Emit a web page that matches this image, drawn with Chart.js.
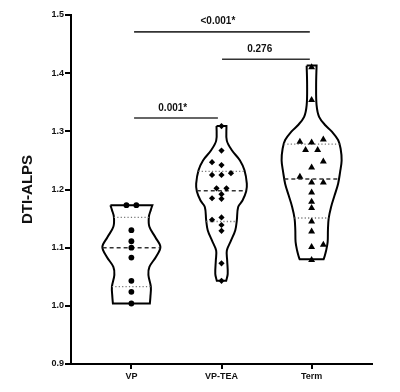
<!DOCTYPE html>
<html>
<head>
<meta charset="utf-8">
<script src="https://cdn.jsdelivr.net/npm/chart.js@4"></script>
<style>
  html, body { margin: 0; padding: 0; background: #fff; }
  #wrap { width: 400px; height: 392px; }
</style>
</head>
<body>
<div id="wrap"><canvas id="chart"></canvas></div>
<script>
// Groups and axis
const categories = ['VP', 'VP-TEA', 'Term'];
const yTicks = [0.9, 1.0, 1.1, 1.2, 1.3, 1.4, 1.5];

// Individual subjects (value, horizontal jitter in category units)
const vpValues = [1.173, 1.173, 1.130, 1.111, 1.100, 1.083, 1.043, 1.024, 1.004];
const vpJitter = [-0.055, 0.055, 0, 0, 0, 0, 0, 0, 0];

const teaValues = [1.309, 1.267, 1.247, 1.242, 1.225, 1.225, 1.228, 1.202, 1.202,
                   1.192, 1.185, 1.184, 1.148, 1.152, 1.139, 1.129, 1.073, 1.043];
const teaJitter = [0, 0, -0.105, 0, -0.105, 0, 0.105, -0.055, 0.055,
                   0, -0.105, 0, -0.105, 0, 0, 0, 0, 0];

const termValues = [1.410, 1.354, 1.282, 1.281, 1.286, 1.268, 1.268, 1.248, 1.238, 1.222,
                    1.212, 1.212, 1.195, 1.179, 1.168, 1.145, 1.128, 1.101, 1.105, 1.079];
const termJitter = [0, 0, -0.13, 0, 0.13, -0.067, 0.067, 0.13, 0, -0.13,
                    0, 0.13, 0, 0, 0, 0, 0, 0, 0.13, 0];

// Violin density profiles (value, half width in category units), top to bottom
const vpProfileY = [1.173, 1.165, 1.153, 1.136, 1.118, 1.101, 1.084, 1.067, 1.053, 1.033, 1.015, 1.004];
const vpProfileW = [0.233, 0.216, 0.194, 0.200, 0.266, 0.322, 0.272, 0.200, 0.189, 0.216, 0.211, 0.205];

const teaProfileY = [1.309, 1.284, 1.267, 1.250, 1.233, 1.210, 1.197, 1.181, 1.170, 1.147, 1.130, 1.112, 1.095, 1.078, 1.055, 1.043];
const teaProfileW = [0.055, 0.059, 0.117, 0.205, 0.255, 0.281, 0.274, 0.233, 0.185, 0.170, 0.153, 0.105, 0.059, 0.063, 0.069, 0.052];

const termProfileY = [1.413, 1.380, 1.345, 1.325, 1.310, 1.300, 1.285, 1.270, 1.250, 1.230, 1.210, 1.190, 1.170, 1.150, 1.130, 1.110, 1.095, 1.085, 1.080];
const termProfileW = [0.055, 0.050, 0.055, 0.083, 0.155, 0.222, 0.294, 0.322, 0.333, 0.316, 0.294, 0.255, 0.216, 0.189, 0.181, 0.178, 0.161, 0.144, 0.133];

// Quartiles per group: lower, median, upper
const lowerQ = [1.033, 1.145, 1.151];
const medians = [1.100, 1.198, 1.218];
const upperQ = [1.152, 1.231, 1.278];

// Significance brackets
const bracketFrom = [1.03, 2.006, 1.03];
const bracketTo = [2.98, 2.98, 1.96];
const bracketY = [1.471, 1.424, 1.323];
const bracketLabels = ['<0.001*', '0.276', '0.001*'];
const bracketLabelX = [1.96, 2.424, 1.459];
const bracketLabelY = [1.4885, 1.441, 1.3396];

const FONT = "'Liberation Sans', Arial, sans-serif";

// half width of a violin at a given value
const halfAt = (profY, profW, v) => {
    for (let i = 0; i < profY.length - 1; i++) {
        if (v <= profY[i] && v >= profY[i + 1]) {
            const t = (profY[i] - v) / (profY[i] - profY[i + 1]);
            return profW[i] + t * (profW[i + 1] - profW[i]);
        }
    }
    return profW[profW.length - 1];
};

// closed outline; corners doubled so the caps stay straight
const outline = (center, profY, profW) => {
    const left = profY.map((y, i) => ({ x: center - profW[i], y }));
    const right = profY.map((y, i) => ({ x: center + profW[i], y })).reverse();
    const n = left.length;
    return [left[0], ...left, left[n - 1], right[0], ...right, right[n - 1], left[0]];
};

const points = (center, values, jitter) => values.map((v, i) => ({ x: center + jitter[i], y: v }));

const profiles = [
    [vpProfileY, vpProfileW],
    [teaProfileY, teaProfileW],
    [termProfileY, termProfileW]
];

const datasets = [
    { data: points(1, vpValues, vpJitter), pointStyle: 'circle', pointRadius: 2.9 },
    { data: points(2, teaValues, teaJitter), pointStyle: 'rectRot', pointRadius: 3.1 },
    { data: points(3, termValues, termJitter), pointStyle: 'triangle', pointRadius: 4 }
].map(d => Object.assign(d, { backgroundColor: '#000', borderColor: '#000', borderWidth: 0, showLine: false }));

profiles.forEach(([py, pw], g) => {
    const c = g + 1;
    const lineFor = (v, dash, width, color) => {
        const h = halfAt(py, pw, v);
        return {
            data: [{ x: c - h, y: v }, { x: c + h, y: v }],
            showLine: true, pointRadius: 0, borderColor: color,
            borderWidth: width, borderDash: dash, tension: 0
        };
    };
    datasets.push(lineFor(medians[g], [4, 3], 1.5, '#333'));
    datasets.push(lineFor(upperQ[g], [1.2, 2.2], 1.3, '#777'));
    datasets.push(lineFor(lowerQ[g], [1.2, 2.2], 1.3, '#777'));
    datasets.push({
        data: outline(c, py, pw),
        showLine: true, pointRadius: 0, borderColor: '#000',
        borderWidth: 2, tension: 0.35, fill: false
    });
});

bracketY.forEach((y, i) => {
    datasets.push({
        data: [{ x: bracketFrom[i], y }, { x: bracketTo[i], y }],
        showLine: true, pointRadius: 0, borderColor: '#333', borderWidth: 1.6, tension: 0
    });
});

// p-value labels above brackets
const bracketText = {
    id: 'bracketText',
    afterDatasetsDraw(chart) {
        const { ctx, scales: { x, y } } = chart;
        ctx.save();
        ctx.font = `bold 10px ${FONT}`;
        ctx.fillStyle = '#111';
        ctx.textAlign = 'center';
        ctx.textBaseline = 'middle';
        bracketLabels.forEach((t, i) => {
            ctx.fillText(t, x.getPixelForValue(bracketLabelX[i]), y.getPixelForValue(bracketLabelY[i]));
        });
        ctx.restore();
    }
};

new Chart(document.getElementById('chart'), {
    type: 'scatter',
    data: { datasets },
    options: {
        responsive: true,
        maintainAspectRatio: false,
        animation: false,
        layout: { padding: { top: 15, right: 28, left: 0, bottom: 0 } },
        plugins: { legend: { display: false }, tooltip: { enabled: false } },
        scales: {
            x: {
                type: 'linear',
                min: 0.33,
                max: 3.67,
                afterBuildTicks: s => { s.ticks = [1, 2, 3].map(v => ({ value: v })); },
                afterFit: s => { s.height = 28; },
                ticks: {
                    callback: v => categories[Math.round(v) - 1],
                    font: { family: FONT, size: 9, weight: 'bold' },
                    color: '#111',
                    padding: 2,
                    maxRotation: 0
                },
                grid: { drawOnChartArea: false, tickLength: 5, color: '#000', lineWidth: 2 },
                border: { color: '#000', width: 2 }
            },
            y: {
                min: 0.9,
                max: 1.5,
                afterBuildTicks: s => { s.ticks = yTicks.map(v => ({ value: v })); },
                afterFit: s => { s.width = 71; },
                ticks: {
                    callback: v => v.toFixed(1),
                    font: { family: FONT, size: 9, weight: 'bold' },
                    color: '#111',
                    padding: 1
                },
                grid: { drawOnChartArea: false, tickLength: 6, color: '#000', lineWidth: 2 },
                border: { color: '#000', width: 2 },
                title: {
                    display: true,
                    text: 'DTI-ALPS',
                    font: { family: FONT, size: 15, weight: 'bold' },
                    color: '#111',
                    padding: { top: 19, bottom: 0 }
                }
            }
        }
    },
    plugins: [bracketText]
});
</script>
</body>
</html>
